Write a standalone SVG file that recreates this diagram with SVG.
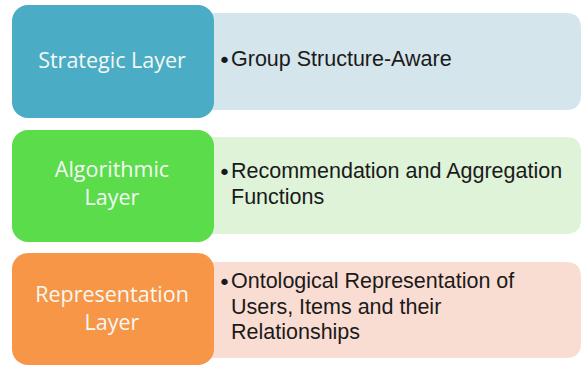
<svg xmlns="http://www.w3.org/2000/svg" width="584" height="369" viewBox="0 0 584 369">
  <style>
    .label { font-family: "Open Sans", "Liberation Sans", sans-serif; font-size: 21.5px; fill: #F4F8F4; text-anchor: middle; }
    .body { font-family: "Liberation Sans", Arial, sans-serif; font-size: 21.5px; fill: #1A1A1A; }
    .bullet { font-family: "DejaVu Sans", sans-serif; font-size: 22px; fill: #1A1A1A; }
  </style>
  <rect width="584" height="369" fill="#FFFFFF"/>

  <!-- Strategic layer -->
  <g id="strategic">
    <path d="M210 13 H566 Q581 13 581 28 V95 Q581 110 566 110 H210 Z" fill="#D5E5EC"/>
    <rect x="12" y="5" width="202" height="113" rx="16" fill="#4BACC6"/>
    <text class="label" x="112" y="68">Strategic Layer</text>
    <text class="bullet" x="218" y="68">•</text>
    <text class="body" x="231" y="66">Group Structure-Aware</text>
  </g>

  <!-- Algorithmic layer -->
  <g id="algorithmic">
    <path d="M210 137 H566 Q581 137 581 152 V219 Q581 234 566 234 H210 Z" fill="#DEF3D8"/>
    <rect x="12" y="130" width="202" height="112" rx="16" fill="#5BDC4B"/>
    <text class="label" x="112" y="177">Algorithmic</text>
    <text class="label" x="112" y="205">Layer</text>
    <text class="bullet" x="218" y="180">•</text>
    <text class="body" x="231" y="178">Recommendation and Aggregation</text>
    <text class="body" x="231" y="204">Functions</text>
  </g>

  <!-- Representation layer -->
  <g id="representation">
    <path d="M210 262 H566 Q581 262 581 277 V343 Q581 358 566 358 H210 Z" fill="#FADDD2"/>
    <rect x="12" y="253" width="202" height="112" rx="16" fill="#F79646"/>
    <text class="label" x="112" y="302">Representation</text>
    <text class="label" x="112" y="330">Layer</text>
    <text class="bullet" x="218" y="290">•</text>
    <text class="body" x="231" y="288">Ontological Representation of</text>
    <text class="body" x="231" y="314">Users, Items and their</text>
    <text class="body" x="231" y="339">Relationships</text>
  </g>

  <g id="connectors"/>
</svg>
